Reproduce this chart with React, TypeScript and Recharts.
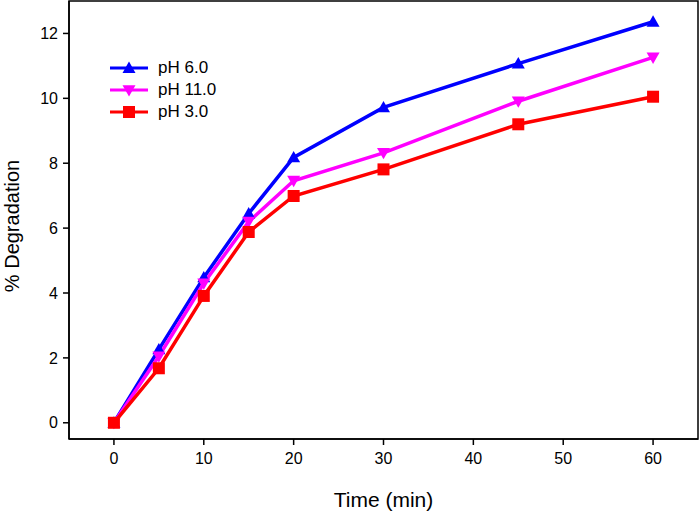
import React from "react";
import {
  LineChart,
  Line,
  XAxis,
  YAxis,
  ReferenceArea,
} from "recharts";

const times = [0, 5, 10, 15, 20, 30, 45, 60];
const ph6 = [0, 2.26, 4.48, 6.45, 8.18, 9.72, 11.07, 12.36];
const ph11 = [0, 2.05, 4.3, 6.2, 7.46, 8.32, 9.91, 11.26];
const ph3 = [0, 1.68, 3.91, 5.88, 6.99, 7.81, 9.2, 10.05];

const xTicks = [0, 10, 20, 30, 40, 50, 60];
const yTicks = [0, 2, 4, 6, 8, 10, 12];

const SERIES = [
  { key: "ph6", name: "pH 6.0", color: "#0000ff", shape: "up" },
  { key: "ph11", name: "pH 11.0", color: "#ff00ff", shape: "down" },
  { key: "ph3", name: "pH 3.0", color: "#ff0000", shape: "square" },
];

const data = times.map((t, i) => ({ t, ph6: ph6[i], ph11: ph11[i], ph3: ph3[i] }));

const FONT = "Arial, 'Liberation Sans', sans-serif";

const Marker = ({ cx, cy, shape, color }: { cx: number; cy: number; shape: string; color: string }) => {
  const s = 6.5;
  if (shape === "up")
    return <polygon points={`${cx},${cy - s} ${cx + s},${cy + s * 0.75} ${cx - s},${cy + s * 0.75}`} fill={color} />;
  if (shape === "down")
    return <polygon points={`${cx},${cy + s} ${cx + s},${cy - s * 0.75} ${cx - s},${cy - s * 0.75}`} fill={color} />;
  return <rect x={cx - 6} y={cy - 6} width={12} height={12} fill={color} />;
};

const makeDot = (shape: string, color: string) => (p: any) =>
  <Marker key={`${shape}-${p.index}`} cx={p.cx} cy={p.cy} shape={shape} color={color} />;

// legend drawn as an overlay so it does not eat into the plot area
const LegendBox = () => (
  <div style={{ position: "absolute", left: 109, top: 57, fontFamily: FONT, fontSize: 17, color: "#000" }}>
    {SERIES.map((s) => (
      <div key={s.key} style={{ display: "flex", alignItems: "center", height: 22 }}>
        <svg width={40} height={16}>
          <line x1={1} y1={8} x2={39} y2={8} stroke={s.color} strokeWidth={3} />
          <Marker cx={20} cy={8} shape={s.shape} color={s.color} />
        </svg>
        <span style={{ marginLeft: 9 }}>{s.name}</span>
      </div>
    ))}
  </div>
);

export default function App() {
  return (
    <div style={{ position: "absolute", left: 0, top: 0, width: 699, height: 512, background: "#fff" }}>
      <LineChart width={699} height={512} data={data} margin={{ top: 1, right: 1, left: 0, bottom: 0 }}>
        <XAxis
          dataKey="t"
          type="number"
          domain={[-5, 65]}
          ticks={xTicks}
          height={73}
          stroke="#000"
          strokeWidth={1.5}
          tickSize={6}
          tick={{ fill: "#000", fontSize: 16, fontFamily: FONT, dy: 6 }}
          label={(props: any) => {
            const vb = props.viewBox;
            return (
              <text x={vb.x + vb.width / 2} y={vb.y + 68} textAnchor="middle" fontSize={21} fontFamily={FONT} fill="#000">
                Time (min)
              </text>
            );
          }}
        />
        <YAxis
          type="number"
          domain={[-0.5, 13]}
          ticks={yTicks}
          width={69}
          stroke="#000"
          strokeWidth={1.5}
          tickSize={6}
          tick={{ fill: "#000", fontSize: 16, fontFamily: FONT, dx: -3 }}
          label={(props: any) => {
            const vb = props.viewBox;
            const cx = 12;
            const cy = vb.y + vb.height / 2 + 6;
            return (
              <text x={cx} y={cy} textAnchor="middle" dominantBaseline="central" transform={`rotate(-90 ${cx} ${cy})`} fontSize={20} fontFamily={FONT} fill="#000">
                % Degradation
              </text>
            );
          }}
        />
        <ReferenceArea x1={-5} x2={65} y1={-0.5} y2={13} fill="none" stroke="#000" strokeWidth={1.5} ifOverflow="visible" />
        {SERIES.map((s) => (
          <Line
            key={s.key}
            dataKey={s.key}
            name={s.name}
            stroke={s.color}
            strokeWidth={3.5}
            dot={makeDot(s.shape, s.color)}
            activeDot={false}
            isAnimationActive={false}
          />
        ))}
      </LineChart>
      <LegendBox />
    </div>
  );
}
